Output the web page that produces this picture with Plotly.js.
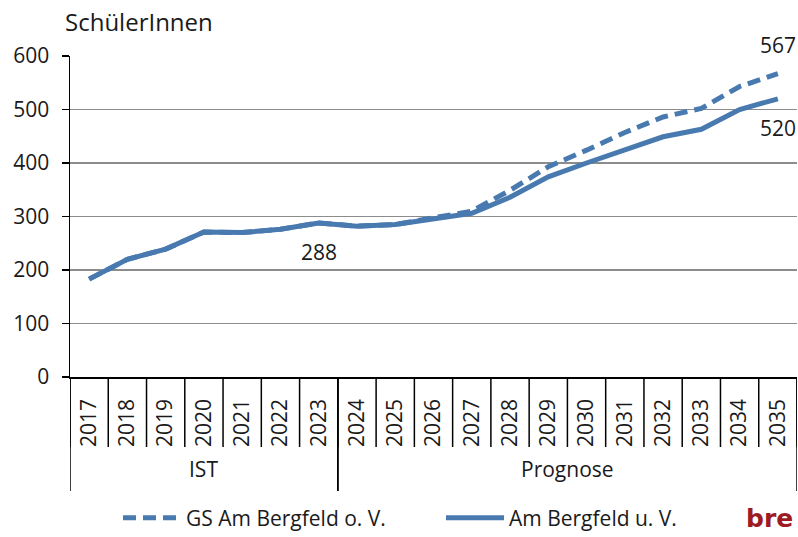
<!DOCTYPE html>
<html>
<head>
<meta charset="utf-8">
<script src="https://cdn.plot.ly/plotly-3.0.1.min.js"></script>
<style>html,body{margin:0;padding:0;background:#fff;}</style>
</head>
<body>
<div id="chart" style="width:798px;height:537px;"></div>
<script>
const years = ['2017','2018','2019','2020','2021','2022','2023','2024','2025','2026','2027','2028','2029','2030','2031','2032','2033','2034','2035'];
const seriesDashedName = 'GS Am Bergfeld o. V.';
const seriesSolidName = 'Am Bergfeld u. V.';
const dashedValues = [183, 220, 239, 271, 270, 276, 288, 282, 285, 297, 310, 349, 393, 424, 457, 486, 502, 543, 567];
const solidValues  = [183, 220, 239, 271, 270, 276, 288, 282, 285, 295, 306, 336, 374, 400, 424, 449, 463, 500, 520];
const groups = [{label: 'IST', first: '2017', last: '2023'}, {label: 'Prognose', first: '2024', last: '2035'}];
const valueLabels = [
  {year: '2023', value: 288, pos: 'below'},
  {year: '2035', value: 567, pos: 'above'},
  {year: '2035', value: 520, pos: 'below'}
];

const lineColor = 'rgb(72,122,176)';
const font = 'Open Sans, Noto Sans, sans-serif';
const txt = '#1a1a1a';

const traces = [
  {x: years, y: dashedValues, name: seriesDashedName, type: 'scatter', mode: 'lines',
   line: {color: lineColor, width: 5, dash: '13px,7px'}},
  {x: years, y: solidValues, name: seriesSolidName, type: 'scatter', mode: 'lines',
   line: {color: lineColor, width: 5}}
];

const plotH = 321;
const shapes = [];
for (let i = 0; i <= years.length; i++) {
  shapes.push({type: 'line', xref: 'x', yref: 'paper', x0: i - 0.5, x1: i - 0.5,
    y0: 0, y1: -70 / plotH, line: {color: '#000', width: 1.5}});
}
const annotations = [];
groups.forEach(g => {
  const a = years.indexOf(g.first) - 0.5, b = years.indexOf(g.last) + 0.5;
  [a, b].forEach(xv => shapes.push({type: 'line', xref: 'x', yref: 'paper', x0: xv, x1: xv,
    y0: 0, y1: -114 / plotH, line: {color: '#000', width: 1.5}}));
  annotations.push({xref: 'x', yref: 'paper', x: (a + b) / 2, y: -92 / plotH, text: g.label,
    showarrow: false, xanchor: 'center', yanchor: 'middle', font: {family: font, size: 21, color: txt}});
});
valueLabels.forEach(v => {
  annotations.push({xref: 'x', yref: 'y', x: years.indexOf(v.year), y: v.value, text: String(v.value), showarrow: false,
    xanchor: 'center', yanchor: 'middle', yshift: v.pos === 'above' ? 29 : -29,
    font: {family: font, size: 21, color: txt}});
});
annotations.push({xref: 'paper', yref: 'paper', x: -7 / 727, y: (377 - 22) / plotH, text: 'SchülerInnen',
  showarrow: false, xanchor: 'left', yanchor: 'middle', font: {family: font, size: 24, color: txt}});
annotations.push({xref: 'paper', yref: 'paper', x: (795 - 70) / 727, y: (377 - 518) / plotH, text: '<b>bre</b>',
  showarrow: false, xanchor: 'right', yanchor: 'middle', font: {family: 'DejaVu Sans, sans-serif', size: 25, color: '#9e1b22'}});

const layout = {
  width: 798, height: 537,
  margin: {l: 70, r: 1, t: 56, b: 160, autoexpand: false},
  paper_bgcolor: '#fff', plot_bgcolor: '#fff',
  font: {family: font, size: 21, color: txt},
  showlegend: true,
  legend: {orientation: 'h', x: (118 - 70) / 727, xanchor: 'left', y: (377 - 518) / plotH, yanchor: 'middle',
    itemwidth: 58, entrywidth: 250, entrywidthmode: 'pixels', font: {family: font, size: 21, color: txt},
    bgcolor: 'rgba(0,0,0,0)'},
  xaxis: {type: 'category', range: [-0.5, years.length - 0.5], showgrid: false, showline: true,
    linecolor: '#000', linewidth: 1.5, ticks: '', tickangle: -90, ticklabelstandoff: 12,
    tickfont: {family: font, size: 21, color: txt}, fixedrange: true},
  yaxis: {range: [0, 600], dtick: 100, tick0: 0, showgrid: true, gridcolor: '#8c8c8c', gridwidth: 1.5,
    zeroline: false, showline: true, linecolor: '#000', linewidth: 1.5, ticks: 'outside', ticklen: 7,
    tickcolor: '#000', tickwidth: 1.5, ticklabelstandoff: 8, tickfont: {family: font, size: 21, color: txt}, fixedrange: true},
  shapes: shapes,
  annotations: annotations
};

Plotly.newPlot('chart', traces, layout, {displayModeBar: false, staticPlot: true});
</script>
</body>
</html>
